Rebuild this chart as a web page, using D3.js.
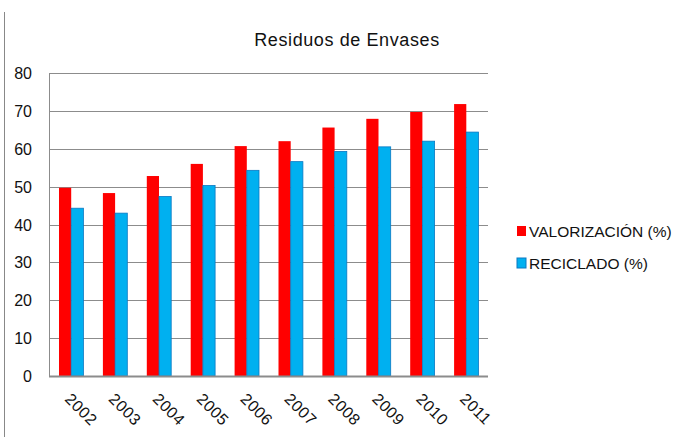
<!DOCTYPE html>
<html>
<head>
    <meta charset="utf-8">
    <title>Residuos de Envases</title>
    <style>
        html, body { margin: 0; padding: 0; background: #fff; }
        text { font-family: 'Liberation Sans', Arial, sans-serif; fill: #111; }
    </style>
    <script src="https://d3js.org/d3.v7.min.js"></script>
</head>
<body>
<script>
    var years = ["2002", "2003", "2004", "2005", "2006", "2007", "2008", "2009", "2010", "2011"];
    var valorizacion = [49.7, 48.3, 52.8, 56.0, 60.7, 62.0, 65.6, 67.9, 69.7, 71.8];
    var reciclado = [44.3, 43.0, 47.4, 50.3, 54.3, 56.6, 59.3, 60.5, 62.0, 64.4];
    var yTicks = [0, 10, 20, 30, 40, 50, 60, 70, 80];
    var seriesNames = ["VALORIZACIÓN (%)", "RECICLADO (%)"];
    var colors = ["#ff0000", "#00b0f0"];

    function drawChart() {
        var W = 687, H = 446;
        var pLeft = 49, pTop = 73, pRight = 488, pBottom = 376;

        var svg = d3.select("body").append("svg")
            .attr("width", W).attr("height", H);

        // outer frame line on the left
        svg.append("line")
            .attr("x1", 4.5).attr("x2", 4.5).attr("y1", 12).attr("y2", 437)
            .attr("stroke", "#888").attr("stroke-width", 1);

        var x = d3.scaleBand().domain(years).range([pLeft, pRight]);
        var xs = d3.scaleBand().domain([0, 1]).range([10, x.bandwidth() - 9.5]);
        var y = d3.scaleLinear().domain([0, 80]).range([pBottom, pTop]);

        // gridlines
        svg.append("g").selectAll("line").data(yTicks.filter(function(d) { return d > 0; }))
            .enter().append("line")
            .attr("x1", pLeft).attr("x2", pRight)
            .attr("y1", function(d) { return Math.round(y(d)) + 0.5; })
            .attr("y2", function(d) { return Math.round(y(d)) + 0.5; })
            .attr("stroke", "#8c8c8c").attr("stroke-width", 1.2);

        // left axis line
        svg.append("line")
            .attr("x1", pLeft + 0.5).attr("x2", pLeft + 0.5).attr("y1", pTop).attr("y2", pBottom)
            .attr("stroke", "#8c8c8c");

        // bars
        var data = [valorizacion, reciclado];
        data.forEach(function(vals, s) {
            svg.append("g").selectAll("rect").data(vals)
                .enter().append("rect")
                .attr("x", function(d, i) { return x(years[i]) + xs(s); })
                .attr("width", xs.bandwidth())
                .attr("y", function(d) { return y(d); })
                .attr("height", function(d) { return pBottom - y(d); })
                .attr("fill", colors[s])
                .attr("stroke", s === 1 ? "#0a78c2" : "none")
                .attr("stroke-width", s === 1 ? 0.8 : 0);
        });

        // bottom axis
        svg.append("line")
            .attr("x1", pLeft).attr("x2", pRight).attr("y1", pBottom + 0.5).attr("y2", pBottom + 0.5)
            .attr("stroke", "#8c8c8c").attr("stroke-width", 2);

        // y labels
        svg.append("g").selectAll("text").data(yTicks)
            .enter().append("text")
            .attr("x", 32).attr("y", function(d) { return y(d) + 6; })
            .attr("text-anchor", "end")
            .style("font-size", "16px")
            .text(function(d) { return d; });

        // x labels
        svg.append("g").selectAll("text").data(years)
            .enter().append("text")
            .attr("transform", function(d) {
                return "translate(" + (x(d) + x.bandwidth() / 2 - 7) + "," + 400 + ") rotate(45)";
            })
            .attr("text-anchor", "start")
            .style("font-size", "16px")
            .style("letter-spacing", "0.5px")
            .text(function(d) { return d; });

        // title
        svg.append("text")
            .attr("x", 347).attr("y", 46)
            .attr("text-anchor", "middle")
            .style("font-size", "18px")
            .style("letter-spacing", "0.6px")
            .text("Residuos de Envases");

        // legend
        var leg = svg.append("g").attr("transform", "translate(517,226)");
        seriesNames.forEach(function(name, i) {
            leg.append("rect")
                .attr("x", 0).attr("y", i * 32)
                .attr("width", 9).attr("height", 10)
                .attr("fill", colors[i])
                .attr("stroke", i === 1 ? "#0a78c2" : "none");
            leg.append("text")
                .attr("x", 12).attr("y", i * 32 + 11)
                .style("font-size", "15.5px")
                .text(name);
        });
    }

    drawChart();
</script>
</body>
</html>
